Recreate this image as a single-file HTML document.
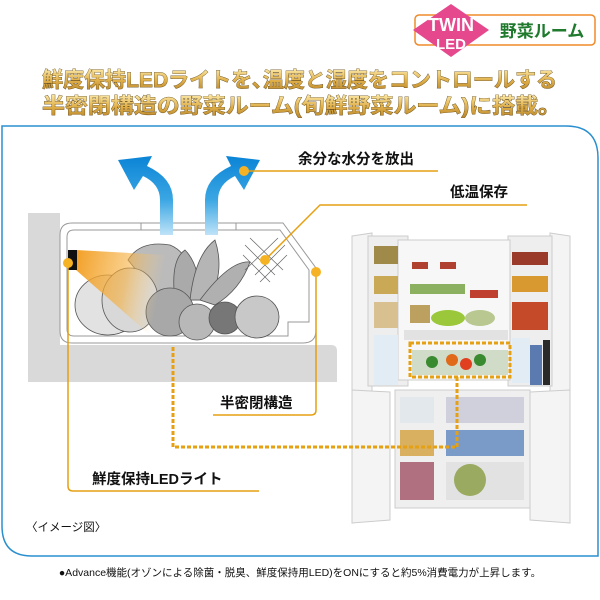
<!DOCTYPE html>
<html><head><meta charset="utf-8"><style>
html,body{margin:0;padding:0;background:#fff;}
body{width:600px;height:600px;overflow:hidden;position:relative;font-family:"Liberation Sans","Noto Sans CJK JP",sans-serif;}
svg{position:absolute;left:0;top:0;}
</style></head><body>
<svg width="600" height="600" viewBox="0 0 600 600" xmlns="http://www.w3.org/2000/svg" font-family="'Liberation Sans','Noto Sans CJK JP',sans-serif">
<defs>
<linearGradient id="gold" x1="0" y1="0" x2="0" y2="1">
<stop offset="0" stop-color="#fbe7a4"/><stop offset="0.5" stop-color="#e0b04a"/><stop offset="1" stop-color="#b8852a"/></linearGradient>
<linearGradient id="blueup" x1="0" y1="1" x2="0" y2="0">
<stop offset="0" stop-color="#bfe3f8"/><stop offset="0.45" stop-color="#3aa6e3"/><stop offset="1" stop-color="#0b84d6"/></linearGradient>
<linearGradient id="beam" x1="0" y1="0" x2="1" y2="0.2">
<stop offset="0" stop-color="#f29a1a" stop-opacity="0.95"/><stop offset="0.6" stop-color="#f5b040" stop-opacity="0.6"/><stop offset="1" stop-color="#fbd58a" stop-opacity="0"/></linearGradient>
</defs>

<!-- badge -->
<rect x="415" y="15" width="180" height="30" rx="4" fill="#fff" stroke="#ef8a2a" stroke-width="1.5"/>
<polygon points="451,4 489,30 451,57 413,30" fill="#e6488e"/>
<text x="451" y="31" text-anchor="middle" font-size="18" font-weight="bold" fill="#fff">TWIN</text>
<text x="451" y="49" text-anchor="middle" font-size="15" font-weight="bold" fill="#fff">LED</text>
<text x="542" y="37" text-anchor="middle" font-size="17" font-weight="bold" fill="#1f7a2e">野菜ルーム</text>

<!-- headline -->
<g font-size="21" font-weight="bold" fill="url(#gold)" stroke="#5a4010" stroke-width="0.7" paint-order="stroke">
<text x="42" y="87" textLength="515" lengthAdjust="spacingAndGlyphs">鮮度保持LEDライトを､温度と湿度をコントロールする</text>
<text x="42" y="113" textLength="519" lengthAdjust="spacingAndGlyphs">半密閉構造の野菜ルーム(旬鮮野菜ルーム)に搭載。</text>
</g>

<!-- panel -->
<path d="M2,126 H566 Q598,126 598,158 V556 H32 Q2,556 2,526 Z" fill="#fff" stroke="#2a8fcf" stroke-width="1.5"/>

<!-- gray background -->
<rect x="28" y="213" width="32" height="169" fill="#d9d9d9"/>
<path d="M28,345 H331 Q337,345 337,351 V382 H28 Z" fill="#d9d9d9"/>

<!-- tray -->
<path d="M72,223 H283 L316,268 V330 Q316,343 303,343 H72 Q60,343 60,331 V235 Q60,223 72,223 Z" fill="#fff" stroke="#999" stroke-width="1"/>
<path d="M74,230 H280 L309,270 V322 H288 V336 H74 Q67,336 67,329 V237 Q67,230 74,230 Z" fill="#fff" stroke="#999" stroke-width="1"/>
<line x1="141" y1="223" x2="141" y2="230" stroke="#999"/>
<line x1="236" y1="223" x2="236" y2="230" stroke="#999"/>

<!-- arrows -->
<path d="M160,235 V200 Q160,184 143,176 L134,190 L118,160 L152,156 L147,166 Q173,178 173,200 V235 Z" fill="url(#blueup)"/>
<path d="M218,235 V200 Q218,184 235,176 L244,190 L260,160 L226,156 L231,166 Q205,178 205,200 V235 Z" fill="url(#blueup)"/>

<!-- vegetables -->
<g stroke="#555" stroke-width="0.8">
<path d="M128,260 Q140,240 170,245 Q195,255 192,300 L160,300 Z" fill="#bbb"/>
<ellipse cx="108" cy="305" rx="33" ry="30" fill="#e2e2e2"/>
<ellipse cx="130" cy="300" rx="28" ry="32" fill="#d8d8d8"/>
<path d="M175,300 Q170,260 185,250 Q200,265 200,300 Z" fill="#aaa"/>
<path d="M190,300 Q195,255 215,240 Q225,270 210,300 Z" fill="#b5b5b5"/>
<path d="M200,300 Q230,260 250,262 Q240,290 215,305 Z" fill="#b0b0b0"/>
<circle cx="170" cy="312" r="24" fill="#a8a8a8"/>
<circle cx="197" cy="322" r="18" fill="#b8b8b8"/>
<circle cx="225" cy="318" r="16" fill="#777"/>
<ellipse cx="257" cy="317" rx="22" ry="21" fill="#c8c8c8"/>
</g>
<polygon points="76,250 165,255 150,335 76,270" fill="url(#beam)"/>
<rect x="68" y="250" width="9" height="20" fill="#111"/>

<!-- crosshatch -->
<g stroke="#666" stroke-width="0.7">
<line x1="245" y1="245" x2="275" y2="275"/><line x1="250" y1="238" x2="283" y2="270"/><line x1="243" y1="255" x2="270" y2="282"/>
<line x1="285" y1="245" x2="255" y2="275"/><line x1="278" y1="238" x2="245" y2="270"/><line x1="287" y1="255" x2="260" y2="282"/>
</g>

<!-- leaders -->
<g stroke="#e6a013" stroke-width="1.5" fill="none">
<line x1="244" y1="171" x2="438" y2="171"/>
<polyline points="265,260 320,205 527,205"/>
<path d="M68,263 V486 Q68,491 73,491 H259"/>
<path d="M316,272 V410 Q316,415 311,415 H213"/>
</g>
<g fill="#f5b224"><circle cx="244" cy="171" r="5"/><circle cx="265" cy="260" r="5"/><circle cx="68" cy="263" r="5"/><circle cx="316" cy="272" r="5"/></g>

<g font-weight="bold" fill="#111">
<text x="298" y="164" font-size="14.5">余分な水分を放出</text>
<text x="450" y="197" font-size="14.5">低温保存</text>
<text x="220" y="408" font-size="14.5">半密閉構造</text>
<text x="92" y="484" font-size="14.5">鮮度保持LEDライト</text>
</g>
<text x="26" y="531" font-size="11.5" fill="#111">〈イメージ図〉</text>

<!-- fridge -->
<g>
<polygon points="352,236 372,233 372,520 352,523" fill="#f4f4f4" stroke="#ccc"/>
<polygon points="550,233 570,236 570,523 550,520" fill="#f4f4f4" stroke="#ccc"/>
<rect x="368" y="236" width="40" height="150" fill="#eee" stroke="#ccc"/>
<rect x="508" y="236" width="44" height="150" fill="#eee" stroke="#ccc"/>
<rect x="398" y="240" width="112" height="140" fill="#f7f7f7" stroke="#ccc"/>
<rect x="374" y="246" width="24" height="18" fill="#a08a4a"/>
<rect x="374" y="276" width="24" height="18" fill="#c9a856"/>
<rect x="374" y="302" width="24" height="26" fill="#d8c090"/>
<rect x="374" y="335" width="24" height="50" fill="#e2ecf4"/>
<rect x="512" y="252" width="36" height="13" fill="#9a3a2a"/>
<rect x="512" y="276" width="36" height="16" fill="#d89a30"/>
<rect x="512" y="302" width="36" height="28" fill="#c44a2a"/>
<rect x="512" y="338" width="18" height="45" fill="#e2ecf4"/>
<rect x="530" y="345" width="12" height="40" fill="#5a7ab0"/>
<rect x="543" y="340" width="7" height="45" fill="#2a2a2a"/>
<rect x="412" y="262" width="16" height="7" fill="#b04030"/>
<rect x="440" y="262" width="16" height="7" fill="#b04030"/>
<rect x="410" y="284" width="55" height="10" fill="#8ab060"/>
<rect x="470" y="290" width="28" height="8" fill="#c04030"/>
<rect x="410" y="305" width="20" height="18" fill="#bba060"/>
<ellipse cx="448" cy="318" rx="17" ry="8" fill="#9ac83a"/>
<ellipse cx="480" cy="318" rx="15" ry="8" fill="#b8c890"/>
<rect x="404" y="330" width="104" height="10" fill="#e2e2e2"/>
<rect x="412" y="350" width="96" height="25" fill="#d0dcc8"/>
<circle cx="432" cy="362" r="6" fill="#3a8a30"/><circle cx="452" cy="360" r="6" fill="#e06a1a"/><circle cx="466" cy="364" r="6" fill="#e04020"/><circle cx="480" cy="360" r="6" fill="#3a8a30"/>
<polygon points="352,390 390,392 390,520 352,523" fill="#f4f4f4" stroke="#ccc"/>
<polygon points="530,392 570,390 570,523 530,520" fill="#f4f4f4" stroke="#ccc"/>
<rect x="395" y="390" width="135" height="118" fill="#efefef" stroke="#ccc"/>
<rect x="400" y="397" width="34" height="26" fill="#e2e8ec"/>
<rect x="446" y="397" width="78" height="26" fill="#d0d0dc"/>
<rect x="400" y="430" width="34" height="26" fill="#d8b060"/>
<rect x="446" y="430" width="78" height="26" fill="#7a9ac8"/>
<rect x="400" y="462" width="34" height="38" fill="#b07080"/>
<rect x="446" y="462" width="78" height="38" fill="#e2e2e2"/>
<circle cx="470" cy="480" r="16" fill="#9aaa60"/>
</g>

<!-- dashed highlight -->
<g stroke="#e6a013" stroke-width="3" stroke-dasharray="4,2" fill="none">
<rect x="410" y="343" width="100" height="34"/>
<polyline points="173,347 173,447 457,447 457,377"/>
</g>

<text x="300" y="576" text-anchor="middle" font-size="10.5" fill="#111">●Advance機能(オゾンによる除菌・脱臭、鮮度保持用LED)をONにすると約5%消費電力が上昇します。</text>
</svg>
</body></html>
